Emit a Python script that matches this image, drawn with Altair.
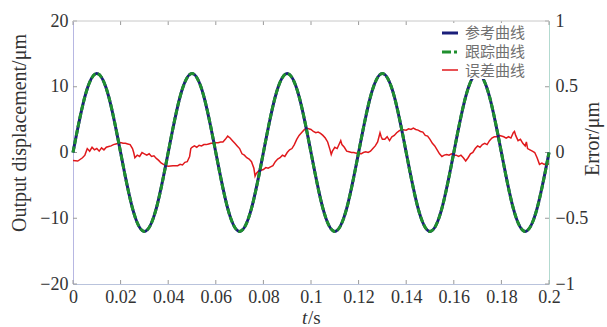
import altair as alt
import pandas as pd

# ---- data -------------------------------------------------------------
t_ref = [0.000, 0.005, 0.010, 0.015, 0.020, 0.025, 0.030, 0.035,
         0.040, 0.045, 0.050, 0.055, 0.060, 0.065, 0.070, 0.075,
         0.080, 0.085, 0.090, 0.095, 0.100, 0.105, 0.110, 0.115,
         0.120, 0.125, 0.130, 0.135, 0.140, 0.145, 0.150, 0.155,
         0.160, 0.165, 0.170, 0.175, 0.180, 0.185, 0.190, 0.195, 0.200]
ref_um = [0, 8.5, 12, 8.5, 0, -8.5, -12, -8.5,
          0, 8.5, 12, 8.5, 0, -8.5, -12, -8.5,
          0, 8.5, 12, 8.5, 0, -8.5, -12, -8.5,
          0, 8.5, 12, 8.5, 0, -8.5, -12, -8.5,
          0, 8.5, 12, 8.5, 0, -8.5, -12, -8.5, 0]
track_um = [0, 8.5, 12, 8.5, 0, -8.5, -12, -8.5,
            0, 8.5, 12, 8.5, 0, -8.5, -12, -8.5,
            0, 8.5, 12, 8.5, 0, -8.5, -12, -8.5,
            0, 8.5, 12, 8.5, 0, -8.5, -12, -8.5,
            0, 8.5, 12, 8.5, 0, -8.5, -12, -8.5, 0]

err_t = [0.000, 0.002, 0.004, 0.005, 0.006, 0.007, 0.008, 0.009, 0.010, 0.011,
         0.012, 0.013, 0.014, 0.015, 0.016, 0.017, 0.018, 0.019, 0.020, 0.021,
         0.022, 0.023, 0.024, 0.025, 0.0255, 0.026, 0.027, 0.028, 0.029, 0.030,
         0.031, 0.032, 0.033, 0.034, 0.035, 0.036, 0.037, 0.038, 0.039, 0.040,
         0.042, 0.044, 0.045, 0.046, 0.047, 0.048, 0.049, 0.0495, 0.050, 0.051,
         0.052, 0.053, 0.054, 0.055, 0.056, 0.057, 0.058, 0.059, 0.060, 0.061,
         0.062, 0.063, 0.064, 0.065, 0.066, 0.067, 0.068, 0.069, 0.070, 0.071,
         0.072, 0.073, 0.074, 0.075, 0.076, 0.0765, 0.077, 0.078, 0.080, 0.081,
         0.082, 0.083, 0.084, 0.085, 0.086, 0.087, 0.088, 0.089, 0.090, 0.091,
         0.092, 0.093, 0.094, 0.095, 0.096, 0.097, 0.098, 0.099, 0.100, 0.101,
         0.102, 0.103, 0.104, 0.105, 0.106, 0.107, 0.108, 0.1085, 0.109, 0.110,
         0.111, 0.112, 0.1125, 0.113, 0.114, 0.115, 0.116, 0.117, 0.118, 0.119,
         0.120, 0.121, 0.122, 0.123, 0.124, 0.125, 0.126, 0.127, 0.128, 0.129,
         0.1295, 0.130, 0.131, 0.132, 0.133, 0.134, 0.135, 0.136, 0.137, 0.138,
         0.140, 0.141, 0.142, 0.143, 0.144, 0.145, 0.146, 0.147, 0.148, 0.149,
         0.150, 0.151, 0.152, 0.153, 0.154, 0.155, 0.156, 0.157, 0.158, 0.159,
         0.160, 0.161, 0.162, 0.163, 0.164, 0.165, 0.166, 0.167, 0.168, 0.169,
         0.170, 0.171, 0.172, 0.173, 0.174, 0.175, 0.176, 0.177, 0.178, 0.179,
         0.180, 0.181, 0.182, 0.183, 0.184, 0.185, 0.1855, 0.186, 0.187, 0.188,
         0.189, 0.190, 0.1905, 0.191, 0.192, 0.193, 0.194, 0.195, 0.196, 0.197,
         0.198, 0.199, 0.200]
err_um = [-0.06, -0.065, -0.04, -0.02, 0.03, 0.01, 0.04, 0.02, 0.03, 0.01,
          0.035, 0.02, 0.04, 0.045, 0.05, 0.06, 0.065, 0.07, 0.075, 0.07,
          0.07, 0.065, 0.06, 0.03, 0.0, -0.04, -0.02, -0.03, 0.0, -0.01,
          -0.02, -0.01, -0.03, -0.025, -0.045, -0.06, -0.08, -0.09, -0.1, -0.105,
          -0.1, -0.1, -0.09, -0.095, -0.075, -0.07, -0.03, 0.03, 0.04, 0.05,
          0.04, 0.055, 0.05, 0.06, 0.06, 0.065, 0.07, 0.07, 0.075, 0.075,
          0.08, 0.08, 0.1, 0.125, 0.11, 0.09, 0.07, 0.05, 0.03, -0.01,
          -0.02, -0.04, -0.05, -0.07, -0.12, -0.18, -0.16, -0.14, -0.13, -0.115,
          -0.12, -0.11, -0.1, -0.07, -0.05, -0.04, -0.02, -0.03, 0.0, 0.02,
          0.03, 0.06, 0.1, 0.13, 0.15, 0.17, 0.185, 0.18, 0.175, 0.16,
          0.15, 0.155, 0.145, 0.13, 0.11, 0.08, 0.02, -0.015, 0.01, 0.04,
          0.03, 0.07, 0.09, 0.06, 0.04, 0.01, 0.005, 0.0, 0.0, -0.005,
          0.0, -0.01, 0.0, 0.005, 0.0, 0.01, 0.03, 0.05, 0.08, 0.15,
          0.12, 0.1, 0.1, 0.12, 0.09, 0.12, 0.13, 0.15, 0.165, 0.175,
          0.17, 0.18, 0.175, 0.185, 0.175, 0.17, 0.16, 0.155, 0.13, 0.125,
          0.1, 0.07, 0.05, 0.02, -0.01, -0.03, -0.02, -0.015, -0.02, -0.01,
          -0.02, -0.02, -0.03, -0.02, -0.04, -0.065, -0.04, -0.01, 0.0, 0.03,
          0.05, 0.04, 0.06, 0.07, 0.06, 0.09, 0.11, 0.12, 0.12, 0.13,
          0.125, 0.12, 0.11, 0.12, 0.11, 0.15, 0.16, 0.13, 0.09, 0.1,
          0.07, 0.05, 0.08, 0.03, 0.02, 0.01, 0.0, -0.04, -0.09, -0.08,
          -0.09, -0.085, -0.09]

x_ticks = [0, 0.02, 0.04, 0.06, 0.08, 0.1, 0.12, 0.14, 0.16, 0.18, 0.2]
left_ticks = [-20, -10, 0, 10, 20]
right_ticks = [-1, -0.5, 0, 0.5, 1]
legend_names = ["参考曲线", "跟踪曲线", "误差曲线"]

# ---- style ------------------------------------------------------------
W, H = 476, 263
SERIF = "Liberation Serif"
CJK = "Noto Sans CJK SC"
TXT = "#333333"
BLUE = "#1b1f7a"
GREEN = "#1f8f2e"
RED = "#e0191c"
TICK = "#9a9a9a"

df_ref = pd.DataFrame({"t": t_ref, "v": ref_um})
df_track = pd.DataFrame({"t": t_ref, "v": track_um})
df_err = pd.DataFrame({"t": err_t, "e": err_um})
one = pd.DataFrame({"k": [0]})

x_enc = alt.X(
    "t:Q",
    scale=alt.Scale(domain=[0, 0.2], nice=False, zero=False),
    axis=alt.Axis(values=x_ticks, format="~g", tickSize=0, labelFont=SERIF,
                  labelFontSize=18, labelColor=TXT, labelPadding=4,
                  labelFlush=False, labelOverlap=False, grid=False,
                  domainColor="#b9c3dc", title=None),
)
y_left = alt.Y(
    "v:Q",
    scale=alt.Scale(domain=[-20, 20], nice=False),
    axis=alt.Axis(values=left_ticks, orient="left", format="d", tickSize=0,
                  labelFont=SERIF, labelFontSize=18, labelColor=TXT,
                  labelPadding=5, grid=False, domainColor="#b7b7e2",
                  title=None),
)
y_right = alt.Y(
    "e:Q",
    scale=alt.Scale(domain=[-1, 1], nice=False),
    axis=alt.Axis(values=right_ticks, orient="right", format="~g", tickSize=0,
                  labelFont=SERIF, labelFontSize=18, labelColor=TXT,
                  labelPadding=6, grid=False, domainColor="#b3dad0",
                  title=None),
)

# ---- curves -----------------------------------------------------------
ref_line = alt.Chart(df_ref).mark_line(
    color=BLUE, strokeWidth=3, interpolate="natural"
).encode(x=x_enc, y=y_left)
track_line = alt.Chart(df_track).mark_line(
    color=GREEN, strokeWidth=3, strokeDash=[6, 2.5], interpolate="natural"
).encode(x=x_enc, y=y_left)

# inward tick marks on all four sides
xt = pd.DataFrame({"t": x_ticks})
yt = pd.DataFrame({"v": left_ticks})
ticks_bottom = alt.Chart(xt).mark_rule(color=TICK).encode(
    x=x_enc, y=alt.value(H), y2=alt.value(H - 4))
ticks_top = alt.Chart(xt).mark_rule(color=TICK).encode(
    x=x_enc, y=alt.value(0), y2=alt.value(4))
ticks_left = alt.Chart(yt).mark_rule(color=TICK).encode(
    y=y_left, x=alt.value(0), x2=alt.value(4))
ticks_right = alt.Chart(yt).mark_rule(color=TICK).encode(
    y=y_left, x=alt.value(W - 4), x2=alt.value(W))
top_border = alt.Chart(one).mark_rule(color="#c8c8c8").encode(
    x=alt.value(0), x2=alt.value(W), y=alt.value(0))

left_group = alt.layer(ticks_bottom, ticks_top, ticks_left, ticks_right,
                       top_border, ref_line, track_line)

err_line = alt.Chart(df_err).mark_line(
    color=RED, strokeWidth=1.5
).encode(x=x_enc, y=y_right)

# ---- legend -----------------------------------------------------------
legend_parts = [
    alt.Chart(one).mark_rect(color="white").encode(
        x=alt.value(365), x2=alt.value(474), y=alt.value(2), y2=alt.value(58)),
    alt.Chart(one).mark_rule(color=BLUE, strokeWidth=3).encode(
        x=alt.value(369), x2=alt.value(385), y=alt.value(12)),
    alt.Chart(one).mark_rule(color=GREEN, strokeWidth=3,
                             strokeDash=[9, 3, 3, 3]).encode(
        x=alt.value(369), x2=alt.value(387), y=alt.value(31)),
    alt.Chart(one).mark_rule(color=RED, strokeWidth=1.5).encode(
        x=alt.value(369), x2=alt.value(385), y=alt.value(49)),
]
for name, yy in zip(legend_names, [12, 31, 50]):
    legend_parts.append(
        alt.Chart(one).mark_text(
            text=name, font=CJK, fontSize=15, color="#707070",
            align="left", baseline="middle"
        ).encode(x=alt.value(392), y=alt.value(yy))
    )
legend = alt.layer(*legend_parts)

# ---- axis titles ------------------------------------------------------
titles = alt.layer(
    alt.Chart(one).mark_text(
        text="Output displacement/μm", font=SERIF, fontSize=20, color=TXT,
        angle=270, align="center", baseline="middle"
    ).encode(x=alt.value(-53), y=alt.value(112)),
    alt.Chart(one).mark_text(
        text="Error/μm", font=SERIF, fontSize=20, color=TXT,
        angle=270, align="center", baseline="middle"
    ).encode(x=alt.value(520), y=alt.value(118)),
    alt.Chart(one).mark_text(
        text="t", font=SERIF, fontSize=19, fontStyle="italic", color=TXT,
        align="left", baseline="middle"
    ).encode(x=alt.value(229), y=alt.value(297)),
    alt.Chart(one).mark_text(
        text="/s", font=SERIF, fontSize=19, color=TXT,
        align="left", baseline="middle"
    ).encode(x=alt.value(235), y=alt.value(297)),
)

chart = alt.layer(err_line, left_group, legend, titles).resolve_scale(
    y="independent"
).properties(
    width=W, height=H,
    autosize=alt.AutoSizeParams(type="none"),
    padding={"left": 73, "top": 21, "right": 58, "bottom": 43},
    background="white",
).configure_view(stroke=None)

chart.save("out.html", embed_options={"renderer": "svg", "actions": False})
